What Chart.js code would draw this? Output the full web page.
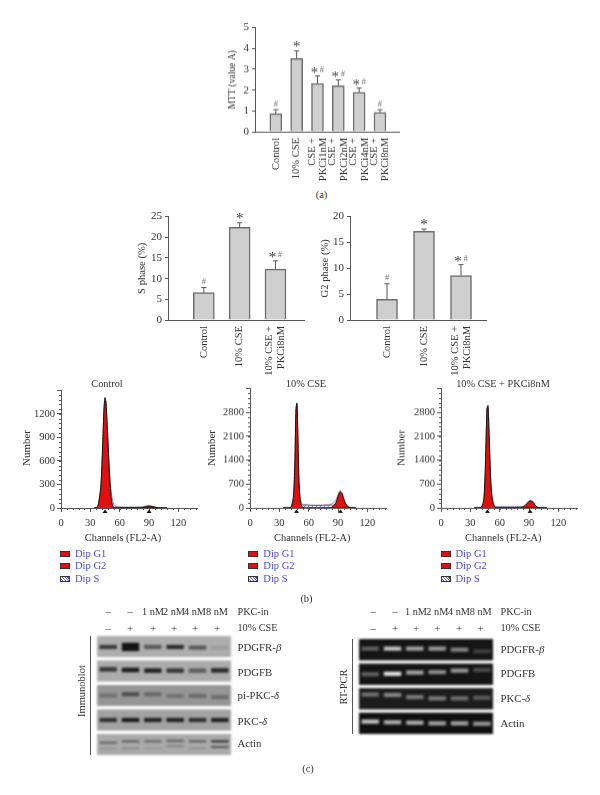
<!DOCTYPE html>
<html lang="en">
<head>
<meta charset="UTF-8">
<title>PKC inhibitor figure</title>
<script src="https://cdn.jsdelivr.net/npm/chart.js"></script>
<style>
    body { margin: 0; background: #fff; width: 600px; height: 795px; overflow: hidden; position: relative; }
    canvas { position: absolute; }
    .txt { position: absolute; font-family: "Liberation Serif", serif; color: #333; white-space: nowrap; line-height: 1; }
    .swatch { position: absolute; width: 8px; height: 4px; border: 1px solid #333; background: #e01010; }
    .hatch { background: repeating-linear-gradient(45deg, #fff 0 1px, #4a4ad0 1px 2px); }
</style>
</head>
<body>
<script>
// (a) MTT
const mttLabels = ['Control', '10% CSE', ['CSE +', 'PKCi1nM'], ['CSE +', 'PKCi2nM'], ['CSE +', 'PKCi4nM'], ['CSE +', 'PKCi8nM']];
const mttValues = [0.87, 3.52, 2.32, 2.21, 1.89, 0.93];
const mttErrors = [0.19, 0.36, 0.36, 0.28, 0.21, 0.13];
const mttMarks = ['#', '*', '*#', '*#', '*#', '#'];

// (b) cell cycle bars
const phaseLabels = ['Control', '10% CSE', ['10% CSE +', 'PKCi8nM']];
const sPhaseValues = [6.6, 22.4, 12.3];
const sPhaseErrors = [1.25, 1.1, 2.0];
const g2PhaseValues = [4.0, 17.15, 8.6];
const g2PhaseErrors = [3.0, 0.45, 2.1];
const phaseMarks = ['#', '*', '*#'];

// (b) histograms, all share the same channels
const channels = [34,36,38,40,41,42,43,44,45,46,47,48,49,50,51,52,53,54,55,56,58,60,65,70,75,80,82,84,86,88,90,92,94,96,98,100,102,104,108];
const ctlG1 = [0,0,40,190,330,600,950,1280,1405,1340,1100,830,560,330,170,70,25,8,0,0,0,0,0,0,0,0,0,0,0,0,0,0,0,0,0,0,0,0,0];
const ctlG2 = [0,0,0,0,0,0,0,0,0,0,0,0,0,0,0,0,0,0,0,0,0,0,0,0,0,0,2,8,16,22,24,22,16,10,5,2,0,0,0];
const ctlS = [0,0,0,0,0,0,0,0,0,0,0,0,0,5,6,7,8,8,8,8,8,8,8,8,8,8,6,4,2,0,0,0,0,0,0,0,0,0,0];
const ctlSum = [0,0,40,190,330,600,950,1280,1405,1345,1120,870,620,400,250,140,80,45,30,22,15,12,10,10,10,12,14,18,22,26,27,25,20,14,8,4,2,0,0];
const cseG1 = [0,0,0,0,5,30,115,220,600,1500,2900,3060,2000,800,300,130,50,10,0,0,0,0,0,0,0,0,0,0,0,0,0,0,0,0,0,0,0,0,0];
const cseG2 = [0,0,0,0,0,0,0,0,0,0,0,0,0,0,0,0,0,0,0,0,0,0,0,0,0,0,5,25,80,170,340,470,420,240,110,40,10,0,0];
const cseS = [0,0,0,0,0,0,0,0,0,0,0,0,0,70,85,85,85,85,85,85,85,80,75,75,78,82,85,85,75,65,50,35,25,15,8,0,0,0,0];
const cseSum = [0,0,5,8,12,35,120,230,610,1510,2910,3070,2020,860,380,210,130,95,90,88,85,82,78,78,82,90,105,125,170,240,395,510,450,260,120,45,15,5,0];
const pkcG1 = [0,0,0,0,20,60,130,320,900,1900,2900,2990,2300,1400,700,340,180,80,30,10,0,0,0,0,0,0,0,0,0,0,0,0,0,0,0,0,0,0,0];
const pkcG2 = [0,0,0,0,0,0,0,0,0,0,0,0,0,0,0,0,0,0,0,0,0,0,0,0,0,0,10,30,70,130,195,205,170,90,30,5,0,0,0];
const pkcS = [0,0,0,0,0,0,0,0,0,0,0,0,0,15,20,22,25,25,25,25,25,25,25,25,25,25,22,20,15,10,5,0,0,0,0,0,0,0,0];
const pkcSum = [0,0,3,8,25,65,135,325,905,1905,2905,2995,2310,1415,720,360,205,105,55,35,25,25,25,25,25,30,35,50,85,140,200,205,170,90,30,5,0,0,0];
const legendNames = ['Dip G1', 'Dip G2', 'Dip S'];

// (c) lanes and bands
const doseLabels = ['–', '–', '1 nM', '2 nM', '4 nM', '8 nM'];
const cseLabels = ['–', '+', '+', '+', '+', '+'];
const laneNames = ['l1', 'l2', 'l3', 'l4', 'l5', 'l6'];
const blotRows = ['PDGFR-<i>β</i>', 'PDGFB', 'pi-PKC-<i>δ</i>', 'PKC-<i>δ</i>', 'Actin'];
const blotLevels = [
    [0.75, 1, 0.55, 0.85, 0.55, 0.1],
    [0.75, 0.95, 0.9, 0.75, 0.5, 0.85],
    [0.28, 0.55, 0.35, 0.28, 0.33, 0.3],
    [0.8, 0.95, 0.9, 0.9, 0.8, 0.9],
    [0.4, 0.45, 0.4, 0.45, 0.45, 0.7]
];
const blotPos = [
    [0.52, 0.52, 0.52, 0.52, 0.55, 0.55],
    [0.42, 0.45, 0.48, 0.48, 0.48, 0.47],
    [0.5, 0.44, 0.44, 0.52, 0.52, 0.58],
    [0.5, 0.5, 0.5, 0.5, 0.5, 0.5],
    [0.42, 0.35, 0.35, 0.33, 0.35, 0.35]
];
const blotThick = [0.2, 0.22, 0.2, 0.2, 0.12];
const blotPanels = ['#adadad', '#ababab', '#969696', '#a2a2a2', '#aaaaaa'];
const actinLowerLevels = [0.12, 0.2, 0.12, 0.25, 0.15, 0.55];
const actinLowerPos = [0.7, 0.68, 0.68, 0.58, 0.68, 0.62];
const pcrRows = ['PDGFR-<i>β</i>', 'PDGFB', 'PKC-<i>δ</i>', 'Actin'];
const pcrLevels = [
    [0.35, 0.8, 0.65, 0.6, 0.5, 0.2],
    [0.35, 0.95, 0.65, 0.55, 0.6, 0.25],
    [0.4, 0.5, 0.45, 0.45, 0.4, 0.3],
    [0.8, 0.7, 0.7, 0.65, 0.65, 0.6]
];
const pcrPos = [
    [0.45, 0.45, 0.45, 0.45, 0.5, 0.58],
    [0.5, 0.48, 0.42, 0.4, 0.33, 0.3],
    [0.3, 0.32, 0.42, 0.48, 0.48, 0.45],
    [0.42, 0.45, 0.47, 0.5, 0.5, 0.52]
];
const pcrPanels = ['#141414', '#141414', '#1c1c1c', '#101010'];

const SERIF = '"Liberation Serif", serif';
const INK = '#333';
const AXIS = '#555';
Chart.defaults.font.family = SERIF;
Chart.defaults.color = INK;
Chart.defaults.animation = false;

function addText(html, x, y, size, extra) {
    const d = document.createElement('div');
    d.className = 'txt';
    d.innerHTML = html;
    d.style.left = x + 'px';
    d.style.top = y + 'px';
    d.style.fontSize = size + 'px';
    const anchor = (extra && extra.anchor) || 'center';
    let t = anchor === 'left' ? 'translate(0,-50%)' : 'translate(-50%,-50%)';
    if (extra && extra.rotate) t += ' rotate(-90deg)';
    d.style.transform = t;
    if (extra && extra.color) d.style.color = extra.color;
    document.body.appendChild(d);
}

function addCanvas(left, top, width, height) {
    const c = document.createElement('canvas');
    c.width = width;
    c.height = height;
    c.style.left = left + 'px';
    c.style.top = top + 'px';
    c.style.width = width + 'px';
    c.style.height = height + 'px';
    document.body.appendChild(c);
    return c;
}

// whiskers, the * / # marks and the upright category labels, placed from the scales
function barExtras(errors, marks, labels, lineGap) {
    return {
        id: 'barExtras',
        afterDatasetsDraw(chart) {
            const { ctx, scales } = chart;
            const values = chart.data.datasets[0].data;
            ctx.save();
            values.forEach((p, i) => {
                const x = scales.x.getPixelForValue(p.x);
                const y0 = scales.y.getPixelForValue(p.y);
                const y1 = scales.y.getPixelForValue(p.y + errors[i]);
                ctx.strokeStyle = AXIS;
                ctx.lineWidth = 1;
                ctx.beginPath();
                ctx.moveTo(x, y0);
                ctx.lineTo(x, y1);
                ctx.moveTo(x - 2.5, y1);
                ctx.lineTo(x + 2.5, y1);
                ctx.stroke();
                ctx.textAlign = 'center';
                ctx.textBaseline = 'alphabetic';
                const m = marks[i];
                const both = m.length > 1;
                if (m.includes('*')) {
                    ctx.font = '15px ' + SERIF;
                    ctx.fillStyle = '#444';
                    ctx.fillText('*', x - (both ? 3 : 0), y1 + (both ? 1 : 0));
                }
                if (m.includes('#')) {
                    ctx.font = '8.5px ' + SERIF;
                    ctx.fillStyle = '#777';
                    ctx.fillText('#', x + (both ? 4.5 : 0), y1 - 3.5);
                }
                // rotated label, lines centred on the bar
                const lines = [].concat(labels[i]);
                ctx.font = '10.5px ' + SERIF;
                ctx.fillStyle = INK;
                ctx.textAlign = 'right';
                ctx.textBaseline = 'middle';
                lines.forEach((line, k) => {
                    ctx.save();
                    ctx.translate(x + (k - (lines.length - 1) / 2) * lineGap, scales.y.bottom + 6);
                    ctx.rotate(-Math.PI / 2);
                    ctx.fillText(line, 0, 0);
                    ctx.restore();
                });
            });
            ctx.restore();
        }
    };
}

function barChart(cfg) {
    const leftW = cfg.leftW, xH = cfg.xH, topPad = 8;
    const plotW = cfg.right - cfg.axisX, plotH = cfg.y0 - cfg.yTop;
    const canvas = addCanvas(cfg.axisX - leftW, cfg.yTop - topPad, leftW + plotW, topPad + plotH + xH);
    new Chart(canvas, {
        type: 'bar',
        data: {
            datasets: [{
                data: cfg.values.map((v, i) => ({ x: i + 1, y: v })),
                backgroundColor: '#cfcfcf',
                borderColor: '#6e6e6e',
                borderWidth: 1.5,
                barThickness: cfg.barW
            }]
        },
        options: {
            responsive: false,
            layout: { padding: { top: topPad } },
            plugins: { legend: { display: false }, tooltip: { enabled: false } },
            scales: {
                x: {
                    type: 'linear',
                    offset: false,
                    min: 0,
                    max: plotW / cfg.spacing,
                    afterFit: s => { s.height = xH; },
                    border: { color: AXIS, width: 1 },
                    grid: { display: false, drawTicks: false },
                    ticks: { display: false }
                },
                y: {
                    min: 0,
                    max: cfg.max,
                    afterFit: s => { s.width = leftW; },
                    border: { color: AXIS, width: 1 },
                    grid: { drawOnChartArea: false, tickLength: 3, tickColor: AXIS },
                    ticks: { stepSize: cfg.step, padding: 3, font: { size: 11 } },
                    title: { display: true, text: cfg.title, font: { size: cfg.titleSize }, padding: { top: 0, bottom: 0 } }
                }
            }
        },
        plugins: [barExtras(cfg.errors, cfg.marks, cfg.labels, cfg.lineGap)]
    });
}

barChart({ axisX: 254.5, yTop: 26, y0: 131.7, right: 400, leftW: 28, xH: 56, spacing: 20.9, barW: 12, lineGap: 11.4, max: 5, step: 1, titleSize: 9.5,
    title: 'MTT (value A)', labels: mttLabels, values: mttValues, errors: mttErrors, marks: mttMarks });
barChart({ axisX: 167.7, yTop: 215, y0: 320.3, right: 305, leftW: 32, xH: 60, spacing: 35.9, barW: 21, lineGap: 11.7, max: 25, step: 5, titleSize: 10.6,
    title: 'S phase (%)', labels: phaseLabels, values: sPhaseValues, errors: sPhaseErrors, marks: phaseMarks });
barChart({ axisX: 350, yTop: 214.7, y0: 320.3, right: 487, leftW: 31, xH: 60, spacing: 37, barW: 21, lineGap: 11.7, max: 20, step: 5, titleSize: 10.6,
    title: 'G2 phase (%)', labels: phaseLabels, values: g2PhaseValues, errors: g2PhaseErrors, marks: phaseMarks });

// hatched fill for the S phase area
function hatchPattern(ctx) {
    const p = document.createElement('canvas');
    p.width = 4;
    p.height = 4;
    const g = p.getContext('2d');
    g.strokeStyle = '#6a6ac0';
    g.lineWidth = 0.8;
    g.beginPath();
    g.moveTo(0, 4);
    g.lineTo(4, 0);
    g.stroke();
    return ctx.createPattern(p, 'repeat');
}

// short ticks between the numbered ones, and the peak triangles under the axis
function histExtras(xStep, yStep, peaks) {
    return {
        id: 'histExtras',
        afterDraw(chart) {
            const { ctx, scales } = chart;
            const ax = scales.x.left, ay = scales.y.bottom;
            ctx.save();
            ctx.strokeStyle = AXIS;
            ctx.lineWidth = 1;
            ctx.beginPath();
            for (let v = 0; v <= scales.x.max; v += xStep) {
                const x = Math.round(scales.x.getPixelForValue(v)) + 0.5;
                ctx.moveTo(x, ay);
                ctx.lineTo(x, ay + 2);
            }
            for (let v = 0; v <= scales.y.max; v += yStep) {
                const y = Math.round(scales.y.getPixelForValue(v)) + 0.5;
                ctx.moveTo(ax, y);
                ctx.lineTo(ax - 2, y);
            }
            ctx.stroke();
            ctx.fillStyle = '#111';
            peaks.forEach(c => {
                const x = scales.x.getPixelForValue(c);
                ctx.beginPath();
                ctx.moveTo(x, ay + 1.5);
                ctx.lineTo(x + 2.5, ay + 5);
                ctx.lineTo(x - 2.5, ay + 5);
                ctx.fill();
            });
            ctx.restore();
        }
    };
}

function histogram(cfg) {
    const leftW = 36, xH = 24, topPad = 8, plotW = 137;
    const plotH = cfg.y0 - cfg.yTop;
    const canvas = addCanvas(cfg.axisX - leftW, cfg.yTop - topPad, leftW + plotW, topPad + plotH + xH);
    const ctx = canvas.getContext('2d');
    const pts = arr => arr.map((v, i) => ({ x: channels[i], y: v }));
    const base = { pointRadius: 0, tension: 0.25, fill: 'origin' };
    new Chart(canvas, {
        type: 'line',
        data: {
            datasets: [
                { ...base, label: 'Dip G1', data: pts(cfg.g1), backgroundColor: '#e01010', borderColor: '#111', borderWidth: 1, order: 1 },
                { ...base, label: 'Dip G2', data: pts(cfg.g2), backgroundColor: '#e01010', borderColor: '#111', borderWidth: 1, order: 1 },
                { ...base, label: 'Dip S', data: pts(cfg.s), backgroundColor: hatchPattern(ctx), borderColor: '#55559a', borderWidth: 1, order: 2 },
                { ...base, label: 'Sum', data: pts(cfg.sum), fill: false, borderColor: '#8a8a8a', borderWidth: 1, order: 3 }
            ]
        },
        options: {
            responsive: false,
            layout: { padding: { top: topPad } },
            plugins: { legend: { display: false }, tooltip: { enabled: false } },
            scales: {
                x: {
                    type: 'linear',
                    min: 0,
                    max: 140,
                    afterFit: s => { s.height = xH; },
                    border: { color: AXIS, width: 1 },
                    grid: { drawOnChartArea: false, tickLength: 4, tickColor: AXIS },
                    ticks: { stepSize: 30, padding: 5, maxRotation: 0, includeBounds: false, font: { size: 10.5 } }
                },
                y: {
                    min: 0,
                    max: cfg.max,
                    afterFit: s => { s.width = leftW; },
                    border: { color: AXIS, width: 1 },
                    grid: { drawOnChartArea: false, tickLength: 4, tickColor: AXIS },
                    ticks: { stepSize: cfg.step, padding: 2, font: { size: 10.5 }, callback: v => (v < cfg.max ? String(v) : '') }
                }
            }
        },
        plugins: [histExtras(6, cfg.step / 5, cfg.peaks)]
    });
    addText(cfg.title, cfg.titleX, 383.5, 10.3);
    addText('Number', cfg.numberX, 448, 11, { rotate: true });
    addText('Channels (FL2-A)', cfg.axisX + 62, 537.7, 10.4);
    legendNames.forEach((name, i) => {
        const y = 554 + i * 12.3;
        const sw = document.createElement('div');
        sw.className = i === 2 ? 'swatch hatch' : 'swatch';
        sw.style.left = (cfg.legendX - 5) + 'px';
        sw.style.top = (y - 3) + 'px';
        document.body.appendChild(sw);
        addText(name, cfg.legendX + 10, y, 10.5, { anchor: 'left', color: '#4b4bd6' });
    });
}

histogram({ axisX: 61, yTop: 390, y0: 508.3, max: 1500, step: 300, g1: ctlG1, g2: ctlG2, s: ctlS, sum: ctlSum, peaks: [45, 90], title: 'Control', titleX: 107, numberX: 25.7, legendX: 65 });
histogram({ axisX: 250.3, yTop: 388.3, y0: 508, max: 3500, step: 700, g1: cseG1, g2: cseG2, s: cseS, sum: cseSum, peaks: [47.5, 92.5], title: '10% CSE', titleX: 306, numberX: 210.7, legendX: 253.3 });
histogram({ axisX: 441.3, yTop: 388.3, y0: 508, max: 3500, step: 700, g1: pkcG1, g2: pkcG2, s: pkcS, sum: pkcSum, peaks: [47.5, 91], title: '10% CSE + PKCi8nM', titleX: 503, numberX: 400.7, legendX: 445.5 });

// gel panels as floating bars on a row scale
function blotChart(cfg) {
    const canvas = addCanvas(cfg.left, cfg.top, cfg.width, cfg.height);
    canvas.style.filter = 'blur(0.8px)';
    const rowH = cfg.rowH;
    const datasets = cfg.levels.map((row, r) => ({
        data: row.map((lv, i) => {
            const mid = r + rowH * cfg.pos[r][i];
            const half = rowH * cfg.thick[r] / 2 * (cfg.big && lv > 0.95 ? 2 : 1);
            return [mid - half, mid + half];
        }),
        backgroundColor: row.map(lv => `rgba(${cfg.band},${lv})`),
        barPercentage: 0.78,
        categoryPercentage: 1
    }));
    (cfg.extra || []).forEach(e => {
        datasets.push({
            data: e.levels.map((lv, i) => {
                const mid = e.row + rowH * e.pos[i];
                return [mid - rowH * 0.05, mid + rowH * 0.05];
            }),
            backgroundColor: e.levels.map(lv => `rgba(${cfg.band},${lv})`),
            barPercentage: 0.78,
            categoryPercentage: 1
        });
    });
    new Chart(canvas, {
        type: 'bar',
        data: { labels: laneNames, datasets },
        options: {
            responsive: false,
            datasets: { bar: { grouped: false } },
            plugins: { legend: { display: false }, tooltip: { enabled: false } },
            scales: {
                x: { display: false, offset: true },
                y: { display: false, reverse: true, min: 0, max: cfg.levels.length - 1 + rowH }
            }
        },
        plugins: [{
            id: 'panels',
            beforeDatasetsDraw(chart) {
                const { ctx, scales } = chart;
                ctx.save();
                cfg.levels.forEach((row, r) => {
                    const y0 = scales.y.getPixelForValue(r);
                    const y1 = scales.y.getPixelForValue(r + rowH);
                    ctx.fillStyle = cfg.panels[r];
                    ctx.fillRect(scales.x.left, y0, scales.x.right - scales.x.left, y1 - y0);
                });
                ctx.restore();
            }
        }]
    });
}

blotChart({ left: 97, top: 635.7, width: 134, height: 119, rowH: 0.86, levels: blotLevels, pos: blotPos, thick: blotThick, big: true,
    band: '20,20,20', panels: blotPanels, extra: [{ row: 4, levels: actinLowerLevels, pos: actinLowerPos }] });
blotChart({ left: 359.3, top: 638.7, width: 133.4, height: 95.3, rowH: 0.87, levels: pcrLevels, pos: pcrPos, thick: [0.2, 0.2, 0.2, 0.2],
    band: '235,235,235', panels: pcrPanels });

function blotLabels(laneX, headerX, rowNames, rowYs, side, sideX, sideY, lineX, lineY0, lineY1) {
    doseLabels.forEach((t, i) => addText(t, laneX[i], 612, t === '–' ? 10.5 : 10.3));
    cseLabels.forEach((t, i) => addText(t, laneX[i], 627.5, 11));
    addText('PKC-in', headerX, 612, 10.2, { anchor: 'left' });
    addText('10% CSE', headerX, 627.5, 10.2, { anchor: 'left' });
    rowNames.forEach((t, i) => addText(t, headerX, rowYs[i], 10.8, { anchor: 'left' }));
    addText(side, sideX, sideY, 10.5, { rotate: true });
    const line = document.createElement('div');
    line.style.cssText = `position:absolute;left:${lineX}px;top:${lineY0}px;width:1px;height:${lineY1 - lineY0}px;background:#555`;
    document.body.appendChild(line);
}
blotLabels([108.3, 130, 153, 174, 195, 217], 237.5, blotRows, [646.7, 671.7, 695, 720.7, 743.3], 'Immunoblot', 81.7, 691, 90, 635.7, 754.7);
blotLabels([373.3, 395, 416, 437.3, 459, 480.7], 500.5, pcrRows, [648.7, 673, 698, 722.7], 'RT-PCR', 344, 687, 352, 638.7, 734);

addText('(a)', 321.5, 195, 10.5);
addText('(b)', 306.5, 599, 10.5);
addText('(c)', 308, 769, 10.5);
</script>
</body>
</html>
